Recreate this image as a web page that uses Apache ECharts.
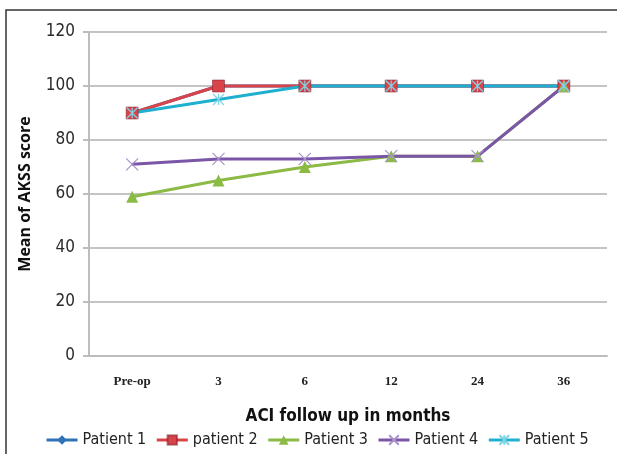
<!DOCTYPE html>
<html>
<head>
<meta charset="utf-8">
<script src="https://cdn.jsdelivr.net/npm/echarts@6/dist/echarts.min.js"></script>
<style>
    html, body { margin: 0; padding: 0; background: #fff; }
    #chart { width: 617px; height: 454px; }
</style>
</head>
<body>
<div id="chart"></div>
<script>
// 随访时间点
var months = ['Pre-op', '3', '6', '12', '24', '36'];
var yTicks = [0, 20, 40, 60, 80, 100, 120];
var patient1 = [90, 100, 100, 100, 100, 100];
var patient2 = [90, 100, 100, 100, 100, 100];
var patient3 = [59, 65, 70, 74, 74, 100];
var patient4 = [71, 73, 73, 74, 74, 100];
var patient5 = [90, 95, 100, 100, 100, 100];

var chart = echarts.init(document.getElementById('chart'));
var narrow = '"DejaVu Sans Condensed", "Liberation Sans Narrow", "Open Sans", sans-serif';

function lineSeries(name, data, color, symbol, size, stroke) {
    var s = {
        name: name,
        type: 'line',
        data: data,
        symbol: symbol,
        symbolSize: size,
        lineStyle: { color: color, width: 3 },
        itemStyle: { color: color, borderColor: 'rgba(120,30,40,0.5)', borderWidth: symbol === 'rect' ? 1 : 0 },
        emphasis: { disabled: true }
    };
    if (stroke) {
        // 只有描边的符号（X / 星号）
        s.itemStyle = { color: 'rgba(0,0,0,0)', borderColor: stroke, borderWidth: 1.2 };
    }
    return s;
}

var option = {
    animation: false,
    graphic: [{
        type: 'rect',
        shape: { x: 6, y: 10, width: 640, height: 480 },
        style: { fill: 'none', stroke: '#333', lineWidth: 1.5 },
        silent: true
    }],
    grid: { left: 89, right: 10, top: 32, bottom: 98 },
    legend: {
        top: 427,
        left: 40,
        width: 577,
        itemWidth: 31,
        itemHeight: 12,
        itemGap: 9,
        lineStyle: { width: 3 },
        textStyle: { fontFamily: narrow, fontSize: 16, color: '#222' },
        data: ['Patient 1', 'patient 2', 'Patient 3', 'Patient 4', 'Patient 5']
    },
    xAxis: {
        type: 'category',
        data: months,
        boundaryGap: true,
        name: 'ACI follow up in months',
        nameLocation: 'middle',
        nameGap: 52,
        nameTextStyle: { fontFamily: narrow, fontWeight: 'bold', fontSize: 17, color: '#111' },
        axisLine: { show: true, lineStyle: { color: '#bdbdbd', width: 2 } },
        axisTick: { show: false },
        axisLabel: {
            margin: 19,
            fontFamily: '"Liberation Serif", serif',
            fontWeight: 'bold',
            fontSize: 13,
            color: '#222'
        }
    },
    yAxis: {
        type: 'value',
        min: 0,
        max: 120,
        interval: 20,
        name: 'Mean of AKSS score',
        nameLocation: 'middle',
        nameGap: 56,
        nameTextStyle: { fontFamily: '"Open Sans", sans-serif', fontWeight: 'bold', fontSize: 16, color: '#111' },
        axisLine: { show: true, lineStyle: { color: '#bdbdbd', width: 2 } },
        axisTick: { show: true, length: 6, lineStyle: { color: '#bdbdbd', width: 2 } },
        splitLine: { show: true, lineStyle: { color: '#c4c4c4', width: 2 } },
        axisLabel: {
            margin: 14,
            fontFamily: narrow,
            fontSize: 17,
            color: '#2a2a2a',
            formatter: function (v) { return yTicks.indexOf(v) >= 0 ? String(v) : ''; }
        }
    },
    series: [
        lineSeries('Patient 1', patient1, '#2f72b8', 'diamond', 9),
        lineSeries('patient 2', patient2, '#d9434a', 'rect', 12),
        lineSeries('Patient 3', patient3, '#8bbb45', 'triangle', 12),
        lineSeries('Patient 4', patient4, '#7b56a8', 'path://M0,0L10,10M10,0L0,10', 12, '#a893cc'),
        lineSeries('Patient 5', patient5, '#1fb0d0', 'path://M0,0L10,10M10,0L0,10M5,0L5,10', 11, '#7fd3e6')
    ]
};
chart.setOption(option);
</script>
</body>
</html>
